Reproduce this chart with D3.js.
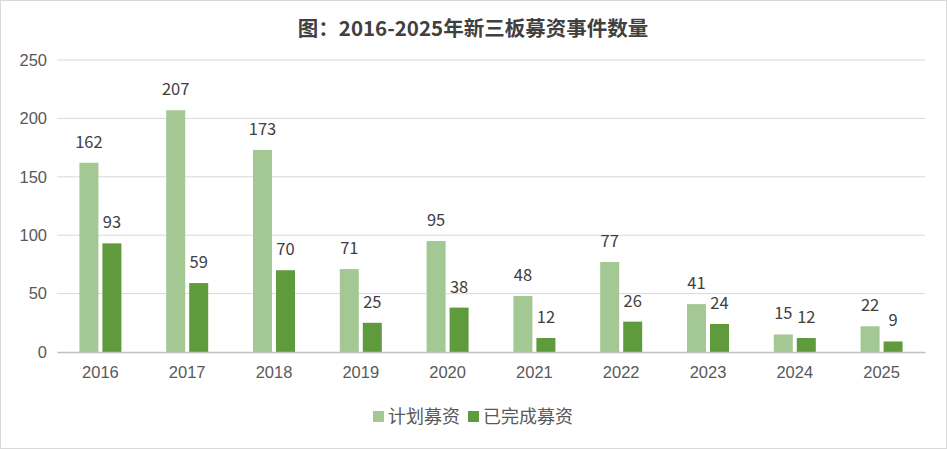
<!DOCTYPE html>
<html>
<head>
<meta charset="utf-8">
<script src="https://cdn.jsdelivr.net/npm/d3@7"></script>
<style>
  html, body { margin: 0; padding: 0; background: #fff; }
  svg { display: block; font-family: "Microsoft YaHei", "Noto Sans CJK SC", "Noto Sans", sans-serif; }
</style>
</head>
<body>
<svg id="chart" width="947" height="449"></svg>
<script>
// data
const years = ["2016", "2017", "2018", "2019", "2020", "2021", "2022", "2023", "2024", "2025"];
const planned = [162, 207, 173, 71, 95, 48, 77, 41, 15, 22];
const completed = [93, 59, 70, 25, 38, 12, 26, 24, 12, 9];
const seriesNames = ["计划募资", "已完成募资"];
const yTicks = [0, 50, 100, 150, 200, 250];

const colors = ["#A4C893", "#5F9A3D"];
const margin = { top: 60, right: 22, bottom: 97, left: 57 };
const W = 947, H = 449;

const svg = d3.select("#chart");

// outer border
svg.append("rect")
  .attr("x", 0.5).attr("y", 0.5)
  .attr("width", W - 1).attr("height", H - 1)
  .attr("fill", "#fff")
  .attr("stroke", "#D9D9D9");

const x = d3.scaleBand()
  .domain(years)
  .range([margin.left, W - margin.right]);

const y = d3.scaleLinear()
  .domain([0, 250])
  .range([H - margin.bottom, margin.top]);

// gridlines
svg.append("g")
  .selectAll("line")
  .data(yTicks.filter(d => d > 0))
  .enter().append("line")
  .attr("x1", margin.left).attr("x2", W - margin.right)
  .attr("y1", d => y(d)).attr("y2", d => y(d))
  .attr("stroke", "#D9D9D9")
  .attr("stroke-width", 1);

// y axis labels
svg.append("g")
  .attr("transform", `translate(${margin.left - 10},0)`)
  .call(d3.axisLeft(y).tickValues(yTicks).tickSize(0).tickPadding(0))
  .call(g => g.select(".domain").remove())
  .selectAll("text")
  .attr("fill", "#595959")
  .style("font-size", "16.5px")
  .style("font-family", "inherit");

const barW = 19, gap = 4;
const series = [planned, completed];

series.forEach((vals, s) => {
  const offset = s === 0 ? -(barW + gap / 2) : gap / 2;
  const g = svg.append("g");
  g.selectAll("rect")
    .data(vals)
    .enter().append("rect")
    .attr("x", (d, i) => x(years[i]) + x.bandwidth() / 2 + offset)
    .attr("y", d => y(d))
    .attr("width", barW)
    .attr("height", d => y(0) - y(d))
    .attr("fill", colors[s]);

  g.selectAll("text")
    .data(vals)
    .enter().append("text")
    .attr("x", (d, i) => x(years[i]) + x.bandwidth() / 2 + offset + barW / 2)
    .attr("y", d => y(d) - 15)
    .attr("text-anchor", "middle")
    .attr("fill", "#404040")
    .style("font-size", "16.5px")
    .text(d => d);
});

// x axis
svg.append("g")
  .attr("transform", `translate(0,${y(0)})`)
  .call(d3.axisBottom(x).tickSize(0).tickPadding(14))
  .call(g => g.select(".domain").attr("stroke", "#BFBFBF").attr("stroke-width", 1.5))
  .selectAll("text")
  .attr("fill", "#595959")
  .style("font-size", "16.5px")
  .style("font-family", "inherit");

// title
svg.append("text")
  .attr("x", 473)
  .attr("y", 36)
  .attr("text-anchor", "middle")
  .attr("fill", "#404040")
  .style("font-size", "20.5px")
  .style("font-weight", "bold")
  .text("图：2016-2025年新三板募资事件数量");

// legend
const legend = svg.append("g").attr("transform", "translate(373,417)");
const legendX = [0, 95];
seriesNames.forEach((name, i) => {
  legend.append("rect")
    .attr("x", legendX[i]).attr("y", -6)
    .attr("width", 11).attr("height", 11)
    .attr("fill", colors[i]);
  legend.append("text")
    .attr("x", legendX[i] + 15).attr("y", 0)
    .attr("dy", "0.35em")
    .attr("fill", "#595959")
    .style("font-size", "18px")
    .text(name);
});
</script>
</body>
</html>
